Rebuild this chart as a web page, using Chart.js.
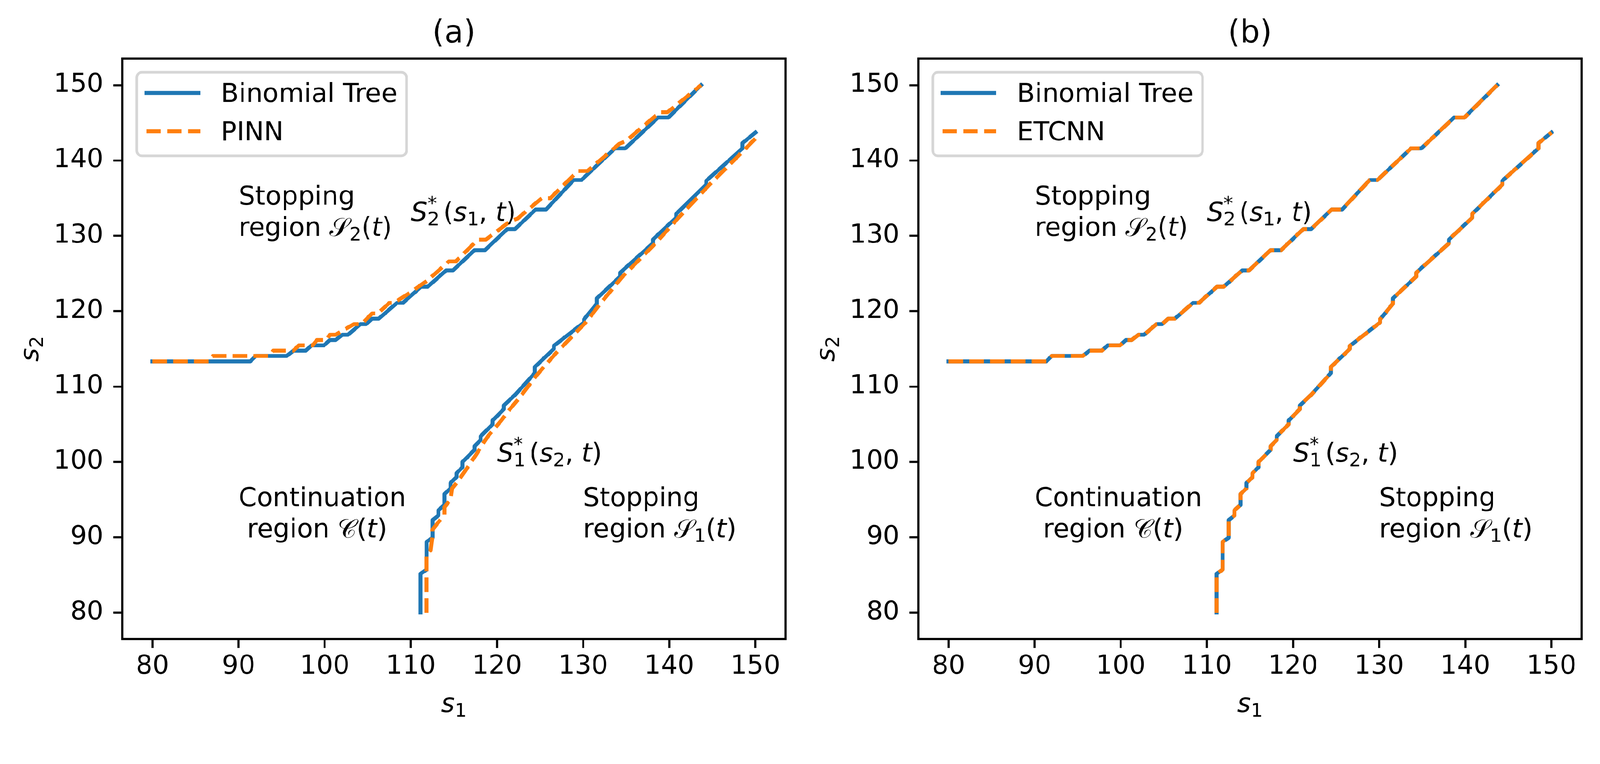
<!DOCTYPE html>
<html><head><meta charset="utf-8">
<script src="https://cdn.jsdelivr.net/npm/chart.js@4.4.1/dist/chart.umd.min.js"></script>
<style>
html,body{margin:0;padding:0;background:#fff;overflow:hidden;}
#wrap{position:absolute;left:0;top:0;width:4251px;height:1956px;background:#fff;transform-origin:0 0;}
canvas{position:absolute;top:0;}
</style></head><body>
<div id="wrap">
<canvas id="cA" width="2125" height="1956" style="left:0px"></canvas>
<canvas id="cB" width="2126" height="1956" style="left:2125px"></canvas>
</div>
<script>
// fit the 4251x1956 design into whatever viewport we get
(function () {
  const s = Math.min(window.innerWidth / 4251, window.innerHeight / 1956);
  if (isFinite(s) && s > 0 && Math.abs(s - 1) > 0.001) document.getElementById('wrap').style.transform = 'scale(' + s + ')';
})();

// ---------------- data ----------------
const xTicks = [80, 90, 100, 110, 120, 130, 140, 150];
const yTicks = [80, 90, 100, 110, 120, 130, 140, 150];
const axisMin = 76.5, axisMax = 153.5;

// Binomial tree: upper boundary S2*(s1,t)
const treeUpperS1 = [80,91.35,92.0,95.58,96.36,97.8,98.47,99.9,100.6,101.26,102.04,102.7,104.15,104.8,105.5,106.27,108.38,109.06,111.18,111.95,114.1,114.9,117.4,118.6,121.2,122.1,124.5,125.7,128.9,129.8,133.7,134.9,138.7,139.9,143.7];
const treeUpperS2 = [113.34,113.34,114.06,114.06,114.76,114.76,115.46,115.46,116.17,116.17,116.87,116.87,118.28,118.28,119.0,119.0,121.1,121.1,123.24,123.24,125.42,125.42,128.1,128.1,130.9,130.9,133.5,133.5,137.4,137.4,141.6,141.6,145.7,145.7,150];
// Binomial tree: lower boundary S1*(s2,t)
const treeLowerS1 = [111.13,111.13,111.83,111.83,112.53,112.53,113.2,113.2,113.9,113.9,114.6,114.6,115.3,115.3,116.0,116.0,117.4,117.4,118.1,118.1,119.5,119.5,120.8,120.8,122.1,124.4,124.4,126.6,126.6,130.1,130.1,131.6,131.6,134.3,134.3,138.1,138.1,140.8,140.8,144.3,144.3,148.5,148.5,150];
const treeLowerS2 = [80,85.16,85.73,89.4,89.94,92.3,92.9,93.6,94.3,95.74,96.5,97.2,98.0,98.5,99.3,100.0,101.6,102.1,102.9,103.4,105.0,105.5,107.0,107.5,108.9,111.8,112.6,115.0,115.4,118.5,118.9,121.0,121.7,124.6,125.1,129.0,129.5,132.4,132.9,136.8,137.3,141.6,142.3,143.7];

// PINN
const pinnUpperS1 = [80,86.55,87.0,93.6,94.0,96.36,97.0,98.58,99.1,100.2,100.6,101.26,103.38,104.27,105.5,106.16,107.5,108.05,109.95,111.95,114.4,115.2,117.8,118.7,121.5,122.4,125.2,126.2,129.4,130.5,134.2,135.0,138.9,139.8,143.7];
const pinnUpperS2 = [113.34,113.34,114.06,114.06,114.76,114.76,115.46,115.46,116.17,116.17,116.87,116.87,118.28,118.28,119.7,119.7,121.1,121.1,122.5,124.1,126.6,126.6,129.5,129.5,131.9,132.3,135.0,135.0,138.6,138.6,142.2,142.6,146.4,146.4,150];
const pinnLowerS1 = [111.8,111.8,112.3,112.5,112.5,113.2,113.9,113.9,114.6,114.8,115.5,116.3,117.0,117.6,118.3,119.0,120.5,121.5,122.6,124.6,126.9,130.3,132.0,134.5,138.4,141.0,144.6,148.8,150];
const pinnLowerS2 = [80,87.6,88.3,90.0,91.0,92.0,93.0,94.0,95.0,96.5,97.5,98.8,100.0,101.0,102.3,103.5,105.5,107.0,108.5,111.5,114.5,118.5,121.0,124.5,129.0,132.3,136.7,141.5,142.9];

// ETCNN (coincides with the binomial tree in panel b)
const etcnnUpperS1 = treeUpperS1.slice();
const etcnnUpperS2 = treeUpperS2.slice();
const etcnnLowerS1 = treeLowerS1.slice();
const etcnnLowerS2 = treeLowerS2.slice();

// ---------------- styling ----------------
const BLUE = '#1f77b4', ORANGE = '#ff7f0e';
const FS = 69.4;              // 10pt at 500 dpi
const LW = 10.4;              // 1.5pt
const DASH = [38.5, 16.7];
const FONT = '"DejaVu Sans"';

function pts(xs, ys) { return xs.map((x, i) => ({x: x, y: ys[i]})); }

// does some installed font provide a glyph for the script letters?
function hasGlyph(ch) {
  const c = document.createElement('canvas'); c.width = 120; c.height = 120;
  const g = c.getContext('2d');
  const draw = (t) => { g.clearRect(0, 0, 120, 120); g.font = '80px ' + FONT; g.fillStyle = '#000'; g.fillText(t, 10, 95); return g.getImageData(0, 0, 120, 120).data; };
  const a = draw(ch), b = draw('\u{10FFFD}');
  let ink = 0, diff = 0;
  for (let i = 3; i < a.length; i += 4) { if (a[i]) ink++; if (a[i] !== b[i]) diff++; }
  return ink > 50 && diff > 50;
}
const CAL = {S: '\u{1D4AE}', C: '\u{1D49E}'};
const calOK = hasGlyph(CAL.S) && hasGlyph(CAL.C);

function fontFor(type, size) {
  if (type === 'i') return 'italic ' + size + 'px ' + FONT;
  if (type === 'c') return calOK ? size + 'px ' + FONT : 'italic ' + (size * 1.08) + 'px "Liberation Serif"';
  return size + 'px ' + FONT;
}
function tokText(t) { return (t[0] === 'c' && calOK) ? CAL[t[1]] : t[1]; }
function tokWidth(ctx, t) {
  const s = FS * 0.72;
  if (t[0] === 'sub') { ctx.font = fontFor('n', s); return ctx.measureText(t[1]).width; }
  if (t[0] === 'ss') { ctx.font = fontFor('n', s); const a = ctx.measureText(t[1]).width; const b = ctx.measureText(t[2]).width; return Math.max(a, b) + 6; }
  if (t[0] === 'sp') return t[1];
  ctx.font = fontFor(t[0], FS); return ctx.measureText(tokText(t)).width;
}
function richWidth(ctx, toks) { let w = 0; for (const t of toks) w += tokWidth(ctx, t); return w; }
function drawRich(ctx, x, y, toks) {
  const s = FS * 0.72;
  ctx.textAlign = 'left'; ctx.textBaseline = 'alphabetic';
  for (const t of toks) {
    if (t[0] === 'sub') { ctx.font = fontFor('n', s); ctx.fillText(t[1], x, y + 12); }
    else if (t[0] === 'ss') { ctx.font = fontFor('n', s); ctx.fillText(t[1], x, y + 12); ctx.fillText(t[2], x, y - 30); }
    else if (t[0] !== 'sp') { ctx.font = fontFor(t[0], FS); ctx.fillText(tokText(t), x, y); }
    x += tokWidth(ctx, t);
  }
}

const LINE_H = 83;
function makeDecor() {
  return {
    id: 'decor',
    afterDraw(chart, args, o) {
      const ctx = chart.ctx, a = chart.chartArea;
      const xs = chart.scales.x, ys = chart.scales.y;
      ctx.save();
      ctx.strokeStyle = '#000'; ctx.lineWidth = 5.6; ctx.lineJoin = 'miter';
      ctx.strokeRect(a.left, a.top, a.right - a.left, a.bottom - a.top);
      ctx.fillStyle = '#000';
      ctx.font = '83px ' + FONT; ctx.textAlign = 'center'; ctx.textBaseline = 'alphabetic';
      ctx.fillText(o.title, (a.left + a.right) / 2, 113);
      // legend
      const L = a.left + 38, T = 192, W = 717, H = 222, R = 14;
      ctx.beginPath();
      ctx.moveTo(L + R, T); ctx.lineTo(L + W - R, T); ctx.arcTo(L + W, T, L + W, T + R, R);
      ctx.lineTo(L + W, T + H - R); ctx.arcTo(L + W, T + H, L + W - R, T + H, R);
      ctx.lineTo(L + R, T + H); ctx.arcTo(L, T + H, L, T + H - R, R);
      ctx.lineTo(L, T + R); ctx.arcTo(L, T, L + R, T, R); ctx.closePath();
      ctx.fillStyle = 'rgba(255,255,255,0.8)'; ctx.fill();
      ctx.strokeStyle = '#d6d6d6'; ctx.lineWidth = 6.9; ctx.stroke();
      const hx0 = a.left + 59, hx1 = a.left + 207;
      ctx.lineWidth = LW;
      ctx.strokeStyle = BLUE; ctx.lineCap = 'butt'; ctx.setLineDash([]);
      ctx.beginPath(); ctx.moveTo(hx0, 247); ctx.lineTo(hx1, 247); ctx.stroke();
      ctx.strokeStyle = ORANGE; ctx.setLineDash(DASH);
      ctx.beginPath(); ctx.moveTo(hx0 + 5, 349); ctx.lineTo(hx1, 349); ctx.stroke();
      ctx.setLineDash([]);
      ctx.fillStyle = '#000'; ctx.font = FS + 'px ' + FONT; ctx.textAlign = 'left';
      ctx.fillText(o.legend[0], a.left + 262, 271);
      ctx.fillText(o.legend[1], a.left + 262, 373);
      // annotations
      for (const an of o.notes) {
        const px = xs.getPixelForValue(an.x), py = ys.getPixelForValue(an.y);
        const n = an.lines.length;
        an.lines.forEach((ln, i) => drawRich(ctx, px, py - (n - 1 - i) * LINE_H, ln));
      }
      // axis labels
      const xl = [['i', 's'], ['sub', '1']];
      const wx = richWidth(ctx, xl);
      drawRich(ctx, (a.left + a.right) / 2 - wx / 2, 1892, xl);
      const yl = [['i', 's'], ['sub', '2']];
      const wy = richWidth(ctx, yl);
      ctx.save();
      ctx.translate(a.left - 223, (a.top + a.bottom) / 2 + wy / 2);
      ctx.rotate(-Math.PI / 2);
      drawRich(ctx, 0, 0, yl);
      ctx.restore();
      ctx.restore();
    }
  };
}

const notes = [
  {x: 90, y: 130, lines: [[['n', 'Stopping']], [['n', 'region '], ['c', 'S'], ['sub', '2'], ['n', '('], ['i', 't'], ['n', ')']]]},
  {x: 110, y: 132, lines: [[['i', 'S'], ['ss', '2', '*'], ['sp', 4], ['n', '('], ['i', 's'], ['sub', '1'], ['n', ', '], ['i', 't'], ['n', ')']]]},
  {x: 120, y: 100, lines: [[['i', 'S'], ['ss', '1', '*'], ['sp', 4], ['n', '('], ['i', 's'], ['sub', '2'], ['n', ', '], ['i', 't'], ['n', ')']]]},
  {x: 90, y: 90, lines: [[['n', 'Continuation']], [['n', ' region '], ['c', 'C'], ['n', '('], ['i', 't'], ['n', ')']]]},
  {x: 130, y: 90, lines: [[['n', 'Stopping']], [['n', 'region '], ['c', 'S'], ['sub', '1'], ['n', '('], ['i', 't'], ['n', ')']]]}
];

function makeChart(id, leftW, rightPad, title, netName, upS1, upS2, loS1, loS2) {
  const solid = (d) => ({data: d, borderColor: BLUE, borderWidth: LW, showLine: true, pointRadius: 0, fill: false,
    borderJoinStyle: 'round', borderCapStyle: 'square', order: 1, tension: 0});
  const dashed = (d) => ({data: d, borderColor: ORANGE, borderWidth: LW, showLine: true, pointRadius: 0, fill: false,
    borderDash: DASH, borderJoinStyle: 'round', borderCapStyle: 'butt', order: 0, tension: 0});
  return new Chart(document.getElementById(id), {
    type: 'scatter',
    data: {
      datasets: [
        Object.assign(solid(pts(treeUpperS1, treeUpperS2)), {label: 'Binomial Tree'}),
        Object.assign(solid(pts(treeLowerS1, treeLowerS2)), {label: 'Binomial Tree (lower)'}),
        Object.assign(dashed(pts(upS1, upS2)), {label: netName}),
        Object.assign(dashed(pts(loS1, loS2)), {label: netName + ' (lower)'})
      ]
    },
    options: {
      responsive: false, devicePixelRatio: 1, animation: false,
      layout: {padding: {top: 156, left: 0, right: rightPad, bottom: 0}},
      plugins: {legend: {display: false}, tooltip: {enabled: false},
        decor: {title: title, legend: ['Binomial Tree', netName], notes: notes}},
      scales: {
        x: {type: 'linear', min: axisMin, max: axisMax,
          afterBuildTicks: s => { s.ticks = xTicks.map(v => ({value: v})); },
          afterFit: s => { s.height = 258; },
          grid: {display: true, drawOnChartArea: false, drawTicks: true, tickLength: 24, tickWidth: 5.6, tickColor: '#000'},
          border: {display: false},
          ticks: {font: {family: 'DejaVu Sans', size: FS}, color: '#000', padding: 8, maxRotation: 0, autoSkip: false}
        },
        y: {type: 'linear', min: axisMin, max: axisMax,
          afterBuildTicks: s => { s.ticks = yTicks.map(v => ({value: v})); },
          afterFit: s => { s.width = leftW; },
          grid: {display: true, drawOnChartArea: false, drawTicks: true, tickLength: 24, tickWidth: 5.6, tickColor: '#000'},
          border: {display: false},
          ticks: {font: {family: 'DejaVu Sans', size: FS}, color: '#000', padding: 26, autoSkip: false}
        }
      }
    },
    plugins: [makeDecor()]
  });
}

makeChart('cA', 325, 2125 - 2087, '(a)', 'PINN', pinnUpperS1, pinnUpperS2, pinnLowerS1, pinnLowerS2);
makeChart('cB', 315, 2126 - 2077, '(b)', 'ETCNN', etcnnUpperS1, etcnnUpperS2, etcnnLowerS1, etcnnLowerS2);
</script>
</body></html>
